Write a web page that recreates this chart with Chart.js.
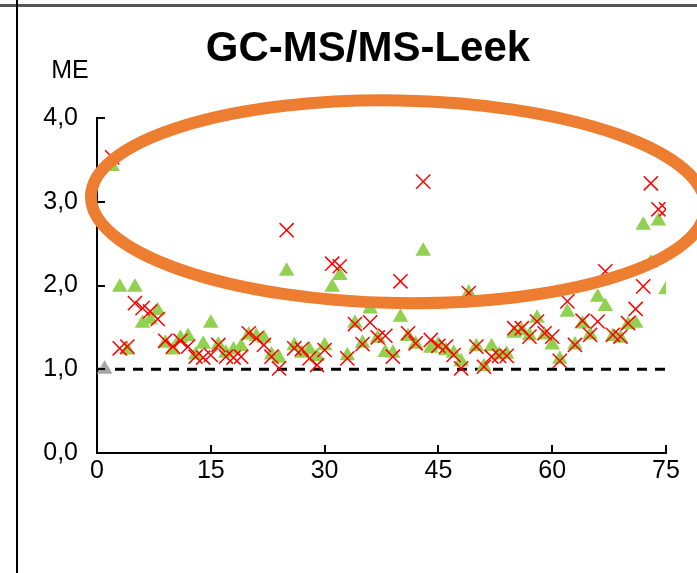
<!DOCTYPE html>
<html>
<head>
<meta charset="utf-8">
<script src="https://cdn.jsdelivr.net/npm/chart.js@4"></script>
<style>
  html, body { margin: 0; padding: 0; background: #fff; }
  #wrap { position: relative; width: 697px; height: 573px; overflow: hidden; }
  #frame-top { position: absolute; left: 0; top: 4px; width: 697px; height: 3px; background: #555; }
  #frame-left { position: absolute; left: 16px; top: 0; width: 2px; height: 573px; background: #000; }
  canvas { position: absolute; left: 0; top: 0; }
</style>
</head>
<body>
<div id="wrap">
  <canvas id="meChart" width="697" height="573"></canvas>
  <div id="frame-top"></div>
  <div id="frame-left"></div>
</div>
<script>
// sample number 2..75, matrix effect per sample
const samples = [2,3,4,5,6,7,8,9,10,11,12,13,14,15,16,17,18,19,20,21,22,23,24,25,26,27,28,29,30,31,32,33,34,35,36,37,38,
  39,40,41,42,43,44,45,46,47,48,49,50,51,52,53,54,55,56,57,58,59,60,61,62,63,64,65,66,67,68,69,70,71,72,73,74,75];
const meTriangle = [3.42,1.98,1.23,1.98,1.55,1.59,1.70,1.31,1.23,1.37,1.39,1.17,1.30,1.55,1.29,1.19,1.23,1.27,1.41,1.39,1.37,
  1.17,1.13,2.17,1.28,1.19,1.23,1.15,1.28,1.98,2.12,1.16,1.55,1.31,1.72,1.37,1.20,1.19,1.62,1.39,1.30,2.41,1.25,1.29,1.22,
  1.19,1.09,1.91,1.27,1.03,1.27,1.17,1.18,1.43,1.46,1.40,1.61,1.41,1.29,1.12,1.68,1.29,1.54,1.41,1.86,1.75,1.39,1.37,1.53,
  1.55,2.72,2.27,2.77,1.95];
const meCross = [3.53,1.25,1.27,1.79,1.73,1.69,1.60,1.34,1.27,1.34,1.27,1.15,1.14,1.17,1.29,1.15,1.14,1.15,1.43,1.37,1.29,
  1.15,1.01,2.66,1.25,1.24,1.13,1.05,1.23,2.26,2.23,1.13,1.54,1.30,1.56,1.38,1.40,1.15,2.05,1.43,1.31,3.24,1.35,1.28,1.27,
  1.17,1.01,1.91,1.27,1.03,1.15,1.16,1.16,1.49,1.49,1.39,1.57,1.43,1.39,1.10,1.81,1.29,1.58,1.41,1.57,2.17,1.41,1.39,1.55,
  1.72,1.99,3.22,2.91,2.91];
const refSample = [1];
const refValue = [1.0];
const xTicks = [0, 15, 30, 45, 60, 75];
const yTicks = [0, 1, 2, 3, 4];
const baseline = 1.0;

const FONT = '"Liberation Sans", Arial, sans-serif';

const pts = (xs, ys) => xs.map((x, i) => ({ x, y: ys[i] }));

// inside tick marks, title, unit label and the highlight ellipse
const decorations = {
  id: 'decorations',
  afterDatasetsDraw(chart) {
    const { ctx, scales: { x, y } } = chart;
    ctx.save();
    ctx.strokeStyle = '#000';
    ctx.lineWidth = 2;
    ctx.beginPath();
    yTicks.forEach(v => {
      const py = Math.round(y.getPixelForValue(v));
      ctx.moveTo(x.left, py); ctx.lineTo(x.left + 8, py);
    });
    xTicks.forEach(v => {
      const px = Math.round(x.getPixelForValue(v));
      ctx.moveTo(px, y.bottom); ctx.lineTo(px, y.bottom - 8);
    });
    ctx.stroke();

    // ellipse around the high values
    const cx = x.getPixelForValue(39.7), cy = y.getPixelForValue(3.0);
    const rx = x.getPixelForValue(39.7 + 40.5) - cx;
    const ry = y.getPixelForValue(3.0) - y.getPixelForValue(3.0 + 1.21);
    ctx.strokeStyle = '#ED7D31';
    ctx.lineWidth = 12;
    ctx.beginPath();
    ctx.ellipse(cx, cy, rx, ry, 0.018, 0, Math.PI * 2);
    ctx.stroke();

    ctx.fillStyle = '#000';
    ctx.textAlign = 'center';
    ctx.textBaseline = 'alphabetic';
    ctx.font = 'bold 42px ' + FONT;
    ctx.fillText('GC-MS/MS-Leek', 368, 61);
    ctx.font = '25px ' + FONT;
    ctx.fillText('ME', 70, 78);
    ctx.restore();
  }
};

new Chart(document.getElementById('meChart'), {
  type: 'scatter',
  data: {
    datasets: [
      { data: pts(samples, meCross), pointStyle: 'crossRot', radius: 10, borderColor: '#FF0000', borderWidth: 1.5, backgroundColor: '#FF0000' },
      { data: pts(samples, meTriangle), pointStyle: 'triangle', radius: 9, borderWidth: 0, backgroundColor: '#92D050', borderColor: '#92D050' },
      { data: pts(refSample, refValue), pointStyle: 'triangle', radius: 9, borderWidth: 0, backgroundColor: '#A5A5A5', borderColor: '#A5A5A5' },
      { type: 'line', data: [{ x: xTicks[0], y: baseline }, { x: xTicks[xTicks.length - 1], y: baseline }],
        borderColor: '#000', borderWidth: 3, borderDash: [10, 8], pointRadius: 0, fill: false }
    ]
  },
  options: {
    responsive: false,
    animation: false,
    layout: { padding: { top: 118, left: 0, right: 31, bottom: 80 } },
    plugins: { legend: { display: false }, title: { display: false }, tooltip: { enabled: false } },
    scales: {
      x: {
        type: 'linear', min: 0, max: 75,
        afterFit: s => { s.height = 40; },
        afterBuildTicks: s => { s.ticks = xTicks.map(v => ({ value: v })); },
        grid: { display: false, drawTicks: false },
        border: { display: true, color: '#000', width: 2 },
        ticks: { color: '#000', font: { family: FONT, size: 25 }, padding: 3, maxRotation: 0 }
      },
      y: {
        min: 0, max: 4,
        afterFit: s => { s.width = 97; },
        afterBuildTicks: s => { s.ticks = yTicks.map(v => ({ value: v })); },
        grid: { display: false, drawTicks: false },
        border: { display: true, color: '#000', width: 2 },
        ticks: { color: '#000', font: { family: FONT, size: 25 }, padding: 19,
          callback: v => v.toFixed(1).replace('.', ',') }
      }
    }
  },
  plugins: [decorations]
});
</script>
</body>
</html>
